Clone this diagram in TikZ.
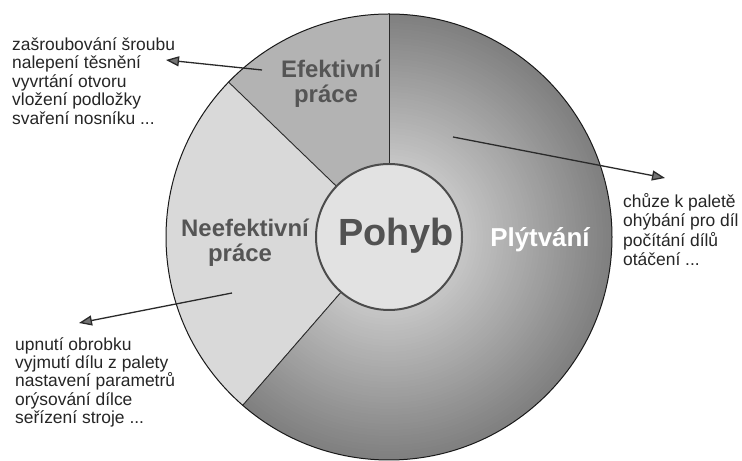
\documentclass[tikz,border=0pt]{standalone}
\usepackage{fontspec}
\setmainfont{Liberation Sans}
\usetikzlibrary{arrows.meta}
\definecolor{effill}{HTML}{B3B3B3}
\definecolor{neffill}{HTML}{D9D9D9}
\definecolor{innerfill}{HTML}{E2E2E2}
\definecolor{labelgray}{HTML}{555555}
\definecolor{linegray}{HTML}{2A2A2A}
\tikzset{
  divider/.style={draw=linegray, line width=0.9bp},
  seclabel/.style={font=\fontsize{24}{25}\selectfont\bfseries, text=labelgray, inner sep=0pt, anchor=base},
  sidetext/.style={font=\fontsize{17.5}{18.5}\selectfont, align=left, inner sep=0pt, text=black!85, anchor=north west},
  callout/.style={draw=linegray, line width=1.3bp, -{Triangle[length=13bp,width=10bp,fill=black!55]}},
}
\begin{document}
\begin{tikzpicture}[x=1bp,y=1bp]
\fill[white] (0,0) rectangle (742,461);
\useasboundingbox (0,0) rectangle (742,461);
\coordinate (C) at (389,224);
% sectors
\fill[effill] (C) -- ++(90:223) arc[start angle=90, end angle=136, radius=223] -- cycle;
\fill[neffill] (C) -- ++(136:223) arc[start angle=136, end angle=229, radius=223] -- cycle;
\begin{scope}
  \clip (C) -- ++(229:223) arc[start angle=229, end angle=450, radius=223] -- cycle;
  \foreach \i in {0,...,50}{
    \pgfmathsetmacro\rr{223-\i*3}
    \pgfmathsetmacro\pp{50-\i*0.56}
    \fill[black!\pp] (C) circle[radius=\rr];
  }
\end{scope}
% dividers
\draw[divider] (C) ++(90:73) -- ++(90:150);
\draw[divider] (C) ++(136:73) -- ++(136:150);
\draw[divider] (C) ++(229:73) -- ++(229:150);
% outline
\draw[draw=black!90, line width=1bp] (C) circle[radius=223];
% inner circle
\fill[innerfill] (C) circle[radius=73];
\draw[draw=black!70, line width=2bp] (C) circle[radius=73];
% labels
\node[seclabel] (ef1) at (331,383) {Efektivní};
\node[seclabel] (ef2) at (326,358) {práce};
\node[seclabel] (nef1) at (245,224) {Neefektivní};
\node[seclabel] (nef2) at (240,199) {práce};
\node[font=\fontsize{38}{40}\selectfont\bfseries, text=black!68, inner sep=0pt, anchor=base] (pohyb) at (396,215) {Pohyb};
\node[font=\fontsize{26}{27}\selectfont\bfseries, text=white, inner sep=0pt, anchor=base] (plyt) at (540,214) {Plýtvání};
% side texts
\node[sidetext] (lt) at (12,423.5) {zašroubování šroubu\\nalepení těsnění\\vyvrtání otvoru\\vložení podložky\\svaření nosníku ...};
\node[sidetext, font=\fontsize{17.5}{19.5}\selectfont] (rt) at (623,268) {chůze k paletě\\ohýbání pro díl\\počítání dílů\\otáčení ...};
\node[sidetext] (lb) at (15,124) {upnutí obrobku\\vyjmutí dílu z palety\\nastavení parametrů\\orýsování dílce\\seřízení stroje ...};
% callouts
\coordinate (efS) at (262,391);
\coordinate (efE) at (166,401);
\coordinate (nefS) at (232,168);
\coordinate (nefE) at (79,138);
\coordinate (plS) at (453,324);
\coordinate (plE) at (665,283);
\draw[callout] (efS) -- (efE);
\draw[callout] (nefS) -- (nefE);
\draw[callout] (plS) -- (plE);
\end{tikzpicture}
\end{document}
